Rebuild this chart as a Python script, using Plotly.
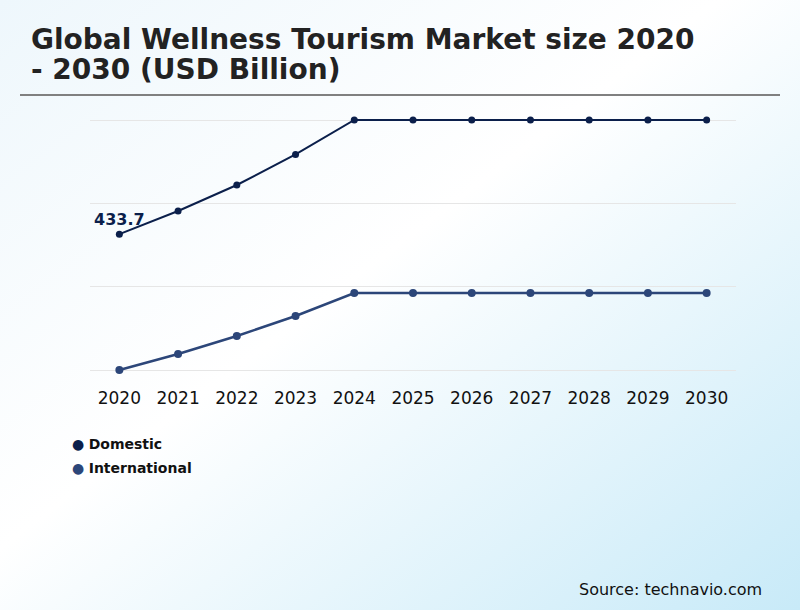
import base64
import plotly.graph_objects as go

# Global wellness tourism market size (USD billion)
years = ['2020', '2021', '2022', '2023', '2024', '2025', '2026', '2027', '2028', '2029', '2030']
domestic = [433.7, 473.5, 518.2, 570.7, 630.0, 630.0, 630.0, 630.0, 630.0, 630.0, 630.0]
international = [200.0, 227.5, 258.5, 292.9, 332.4, 332.4, 332.4, 332.4, 332.4, 332.4, 332.4]
series_names = ['Domestic', 'International']
series_colors = ['#0b1f4b', '#2c4679']

# background gradient as an svg image
svg = ('<svg xmlns="http://www.w3.org/2000/svg" width="800" height="610" viewBox="0 0 800 610" '
       'preserveAspectRatio="none"><defs><linearGradient id="g" x1="0" y1="0" x2="1" y2="1">'
       '<stop offset="0" stop-color="#eef7fc"/><stop offset="0.45" stop-color="#ffffff"/>'
       '<stop offset="1" stop-color="#c8eaf8"/></linearGradient></defs>'
       '<rect width="800" height="610" fill="url(#g)"/></svg>')
bg = 'data:image/svg+xml;base64,' + base64.b64encode(svg.encode()).decode()

fig = go.Figure()
fig.add_trace(go.Scatter(x=years, y=domestic, mode='lines+markers+text', name=series_names[0],
                         line=dict(color=series_colors[0], width=2),
                         marker=dict(color=series_colors[0], size=7),
                         text=[f'{domestic[0]}'] + [''] * (len(years) - 1),
                         textposition='top center',
                         textfont=dict(family='DejaVu Sans', size=16, color=series_colors[0], weight='bold'),
                         cliponaxis=False, showlegend=False))
fig.add_trace(go.Scatter(x=years, y=international, mode='lines+markers', name=series_names[1],
                         line=dict(color=series_colors[1], width=2.5),
                         marker=dict(color=series_colors[1], size=8),
                         cliponaxis=False, showlegend=False))

lo, hi = min(international), max(domestic)
grid = [lo + (hi - lo) * i / 3 for i in range(4)]
pad = (hi - lo) * 2 / 250.0  # keep edge gridlines ~2px inside the plot so they get drawn

# px -> paper helpers (plot area: x 90..736, y 118..372)
def px_x(x):
    return (x - 90) / 646.0

def px_y(y):
    return (372 - y) / 254.0

annos = [
    dict(text='<b>Global Wellness Tourism Market size 2020</b>', x=px_x(29), y=px_y(39)),
    dict(text='<b>- 2030 (USD Billion)</b>', x=px_x(29), y=px_y(70)),
]
for a in annos:
    a.update(xref='paper', yref='paper', xanchor='left', yanchor='middle', showarrow=False,
             font=dict(family='DejaVu Sans', size=28, color='#222222'))

# legend drawn as annotations
for i, (name, col) in enumerate(zip(series_names, series_colors)):
    annos.append(dict(text=f'<span style="color:{col}">●</span> <b>{name}</b>',
                      x=px_x(70), y=px_y(444 + 24 * i), xref='paper', yref='paper',
                      xanchor='left', yanchor='middle', showarrow=False,
                      font=dict(family='DejaVu Sans', size=14, color='#111111')))

annos.append(dict(text='Source: technavio.com', x=px_x(764), y=px_y(589), xref='paper', yref='paper',
                  xanchor='right', yanchor='middle', showarrow=False,
                  font=dict(family='DejaVu Sans', size=16, color='#111111')))

fig.update_layout(
    width=800, height=610,
    margin=dict(l=90, r=64, t=118, b=238),
    paper_bgcolor='white', plot_bgcolor='rgba(0,0,0,0)',
    images=[dict(source=bg, xref='paper', yref='paper', x=px_x(0), y=px_y(0),
                 sizex=800 / 646.0, sizey=610 / 254.0, sizing='stretch', layer='below')],
    annotations=annos,
    shapes=[dict(type='line', xref='paper', yref='paper', x0=px_x(20), x1=px_x(780),
                 y0=px_y(95), y1=px_y(95), line=dict(color='#808080', width=2))],
    xaxis=dict(range=[-0.5, 10.5], showgrid=False, zeroline=False, showline=False,
               ticks='', ticklabelstandoff=14,
               tickfont=dict(family='DejaVu Sans', size=17, color='#111111')),
    yaxis=dict(range=[lo - pad, hi + pad], tickvals=grid, showticklabels=False, showgrid=True,
               gridcolor='#e6e6e6', gridwidth=1, zeroline=False, showline=False),
)

fig.write_html("out.html", config={'displayModeBar': False},
               post_script="document.body.style.margin='0';")
